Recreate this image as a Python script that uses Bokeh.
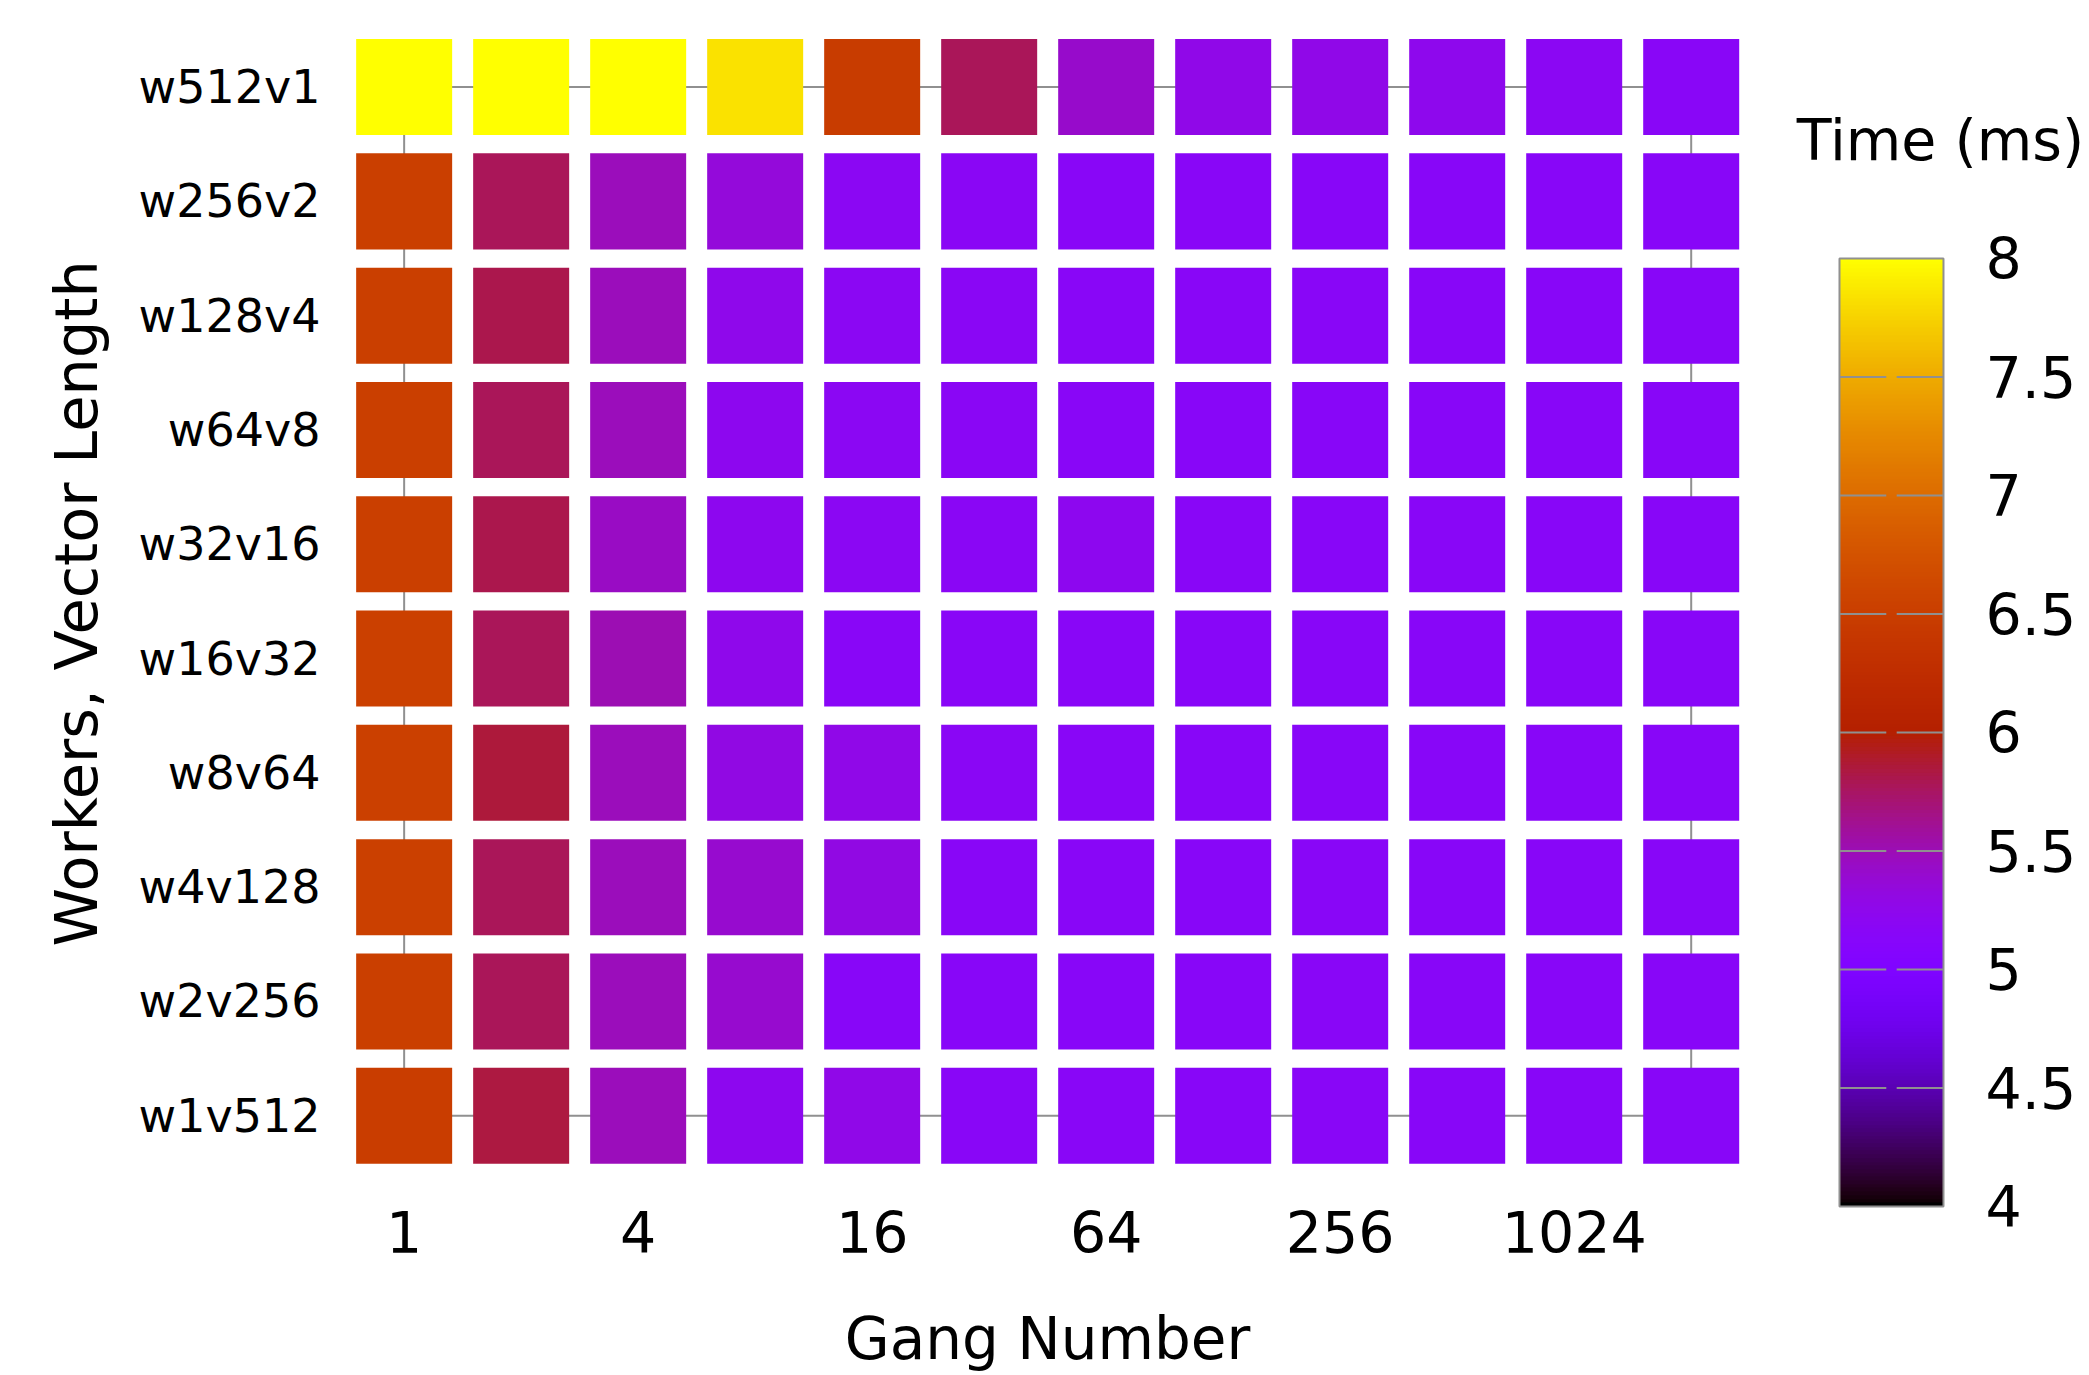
import numpy as np
from bokeh.plotting import figure
from bokeh.models import Range1d, ColumnDataSource, LinearColorMapper, FixedTicker, Title
from bokeh.core.properties import value
from bokeh.layouts import row
from bokeh.transform import transform
from bokeh.embed import file_html
from bokeh.resources import INLINE

# Gang numbers (x) and worker/vector configurations (y, bottom to top)
gangs = [1, 2, 4, 8, 16, 32, 64, 128, 256, 512, 1024, 2048]
configs = ["w1v512", "w2v256", "w4v128", "w8v64", "w16v32",
           "w32v16", "w64v8", "w128v4", "w256v2", "w512v1"]

# Run time in ms for each configuration, one value per gang number
t_w512v1 = [8.00, 8.00, 8.00, 7.84, 6.46, 5.78, 5.42, 5.28, 5.27, 5.24, 5.20, 5.16]
t_w256v2 = [6.50, 5.78, 5.48, 5.35, 5.20, 5.18, 5.17, 5.16, 5.15, 5.15, 5.15, 5.15]
t_w128v4 = [6.50, 5.80, 5.48, 5.25, 5.20, 5.18, 5.16, 5.16, 5.16, 5.15, 5.15, 5.15]
t_w64v8 = [6.50, 5.78, 5.47, 5.22, 5.20, 5.18, 5.16, 5.15, 5.15, 5.15, 5.15, 5.15]
t_w32v16 = [6.50, 5.80, 5.44, 5.22, 5.19, 5.18, 5.22, 5.16, 5.15, 5.16, 5.15, 5.15]
t_w16v32 = [6.52, 5.78, 5.50, 5.25, 5.17, 5.17, 5.16, 5.15, 5.15, 5.15, 5.15, 5.15]
t_w8v64 = [6.52, 5.85, 5.48, 5.30, 5.27, 5.18, 5.16, 5.15, 5.15, 5.15, 5.15, 5.15]
t_w4v128 = [6.52, 5.78, 5.47, 5.40, 5.30, 5.17, 5.16, 5.15, 5.16, 5.15, 5.15, 5.15]
t_w2v256 = [6.50, 5.78, 5.47, 5.40, 5.15, 5.15, 5.15, 5.15, 5.16, 5.15, 5.15, 5.15]
t_w1v512 = [6.48, 5.84, 5.47, 5.23, 5.28, 5.17, 5.16, 5.15, 5.16, 5.15, 5.15, 5.15]

times = {
    "w512v1": t_w512v1, "w256v2": t_w256v2, "w128v4": t_w128v4, "w64v8": t_w64v8,
    "w32v16": t_w32v16, "w16v32": t_w16v32, "w8v64": t_w8v64, "w4v128": t_w4v128,
    "w2v256": t_w2v256, "w1v512": t_w1v512,
}

x_ticks = [1, 4, 16, 64, 256, 1024]
cbar_ticks = [4, 4.5, 5, 5.5, 6, 6.5, 7, 7.5, 8]
t_low, t_high = 4, 8


def gnuplot_palette(n=256):
    """Classic gnuplot pm3d palette (rgbformulae 7,5,15)."""
    pal = []
    for i in range(n):
        s = i / (n - 1)
        r = np.sqrt(s)
        g = s ** 3
        b = max(0.0, np.sin(2 * np.pi * s))
        pal.append("#%02x%02x%02x" % (int(round(r * 255)), int(round(g * 255)), int(round(b * 255))))
    return pal


palette = gnuplot_palette()
mapper = LinearColorMapper(palette=palette, low=t_low, high=t_high)

xs, ys, vs = [], [], []
for idx, cfg in enumerate(configs):
    for g, v in zip(gangs, times[cfg]):
        xs.append(g)
        ys.append(idx)
        vs.append(v)
src = ColumnDataSource(dict(gang=xs, row=ys, time=vs))

FONT = "DejaVu Sans"
GRAY = "#909090"
TOP, BOTTOM = 30, 125

p = figure(width=1743, height=1375, x_axis_type="log",
           x_range=Range1d(2 ** -0.45, 2 ** 11.447),
           y_range=Range1d(-1.179, len(configs) - 1 + 0.495),
           output_backend="svg", toolbar_location=None,
           min_border_left=351, min_border_right=0,
           min_border_top=TOP, min_border_bottom=BOTTOM)

# plot border running through the outer cell centres
p.quad(left=[gangs[0]], right=[gangs[-1]], bottom=[0], top=[len(configs) - 1],
       fill_color=None, line_color=GRAY, line_width=2)

p.rect(x="gang", y="row", width=96, height=0.84, width_units="screen",
       source=src, fill_color=transform("time", mapper), line_color=None)

p.grid.visible = False
p.outline_line_color = None
p.background_fill_color = "white"
p.border_fill_color = "white"

p.xaxis.ticker = FixedTicker(ticks=x_ticks)
p.xaxis.major_label_overrides = {t: str(t) for t in x_ticks}
p.yaxis.ticker = FixedTicker(ticks=list(range(len(configs))))
p.yaxis.major_label_overrides = {i: c for i, c in enumerate(configs)}
p.xaxis.axis_label = "Gang Number"
for ax in (p.xaxis[0], p.yaxis[0]):
    ax.axis_line_color = None
    ax.major_tick_line_color = None
    ax.minor_tick_line_color = None
    ax.major_tick_out = 0
    ax.major_tick_in = 0
    ax.major_label_text_font = FONT
    ax.major_label_text_color = "black"
    ax.axis_label_text_font = FONT
    ax.axis_label_text_font_style = "normal"
    ax.axis_label_text_font_size = "58px"
    ax.axis_label_text_color = "black"
p.xaxis.major_label_text_font_size = "57px"
p.xaxis.major_label_standoff = -40
p.xaxis.axis_label_standoff = 49
p.yaxis.major_label_text_font_size = "46px"
p.yaxis.major_label_standoff = 31

# y-axis title, centred on the rows rather than on the whole frame
p.add_layout(Title(text="Workers, Vector Length", align="left", offset=304,
                   text_font=FONT, text_font_size="59px", text_font_style="normal",
                   text_color="black", standoff=49), "left")

# colour scale: bar spans 0..1 in x, 4..8 ms in y
cb = figure(width=346, height=1375, x_range=Range1d(-0.923, 2.404),
            y_range=Range1d(3.814, 8.962),
            output_backend="svg", toolbar_location=None,
            x_axis_location=None, y_axis_location=None,
            min_border_left=0, min_border_right=0,
            min_border_top=TOP, min_border_bottom=BOTTOM)
cb.image(image=[np.linspace(t_low, t_high, 256).reshape(-1, 1)], x=0, y=t_low,
         dw=1, dh=t_high - t_low, color_mapper=mapper)
inner = cbar_ticks[1:-1]
cb.segment(x0=[0] * len(inner), x1=[0.45] * len(inner), y0=inner, y1=inner,
           line_color=GRAY, line_width=2)
cb.segment(x0=[0.55] * len(inner), x1=[1] * len(inner), y0=inner, y1=inner,
           line_color=GRAY, line_width=2)
cb.quad(left=[0], right=[1], bottom=[t_low], top=[t_high],
        fill_color=None, line_color=GRAY, line_width=2)
cb.text(x=[1.404] * len(cbar_ticks), y=cbar_ticks, text=["%g" % t for t in cbar_ticks],
        text_align="left", text_baseline="middle", text_font=value(FONT),
        text_font_size="57px", text_color="black")
cb.text(x=[0.971], y=[8.498], text=["Time (ms)"], text_align="center",
        text_baseline="middle", text_font=value(FONT), text_font_size="57px",
        text_color="black")
cb.grid.visible = False
cb.outline_line_color = None
cb.border_fill_color = "white"

layout = row(p, cb, spacing=0)
html = file_html(layout, INLINE)
html = html.replace("<head>", "<head><style>html,body{margin:0;padding:0;}</style>", 1)
open("out.html", "w").write(html)
